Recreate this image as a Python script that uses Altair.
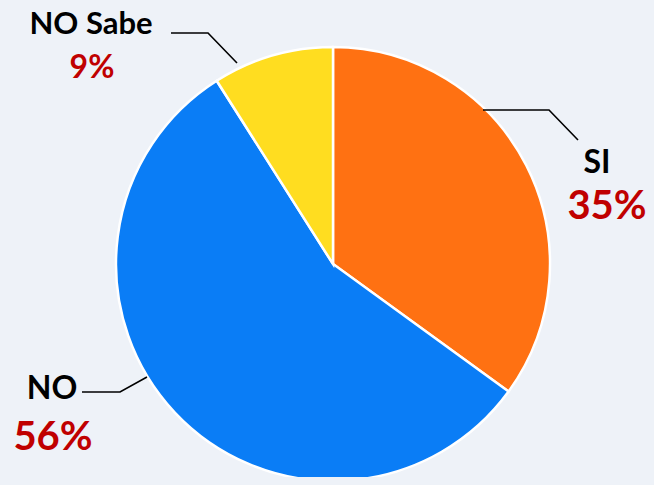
import altair as alt
import pandas as pd
import jinja2

# ---- data ----
categories = ["SI", "NO", "NO Sabe"]
values = [35, 56, 9]
pct_labels = ["35%", "56%", "9%"]
colors = ["#FF7112", "#0A7DF6", "#FFDD20"]
BG = "#EEF2F8"

# ---- annotation layout (image pixel coordinates) ----
name_pos = {"SI": (597, 163), "NO": (52, 389), "NO Sabe": (91, 25)}
name_size = {"SI": 32, "NO": 32, "NO Sabe": 31}
pct_pos = {"SI": (607, 207), "NO": (53, 438), "NO Sabe": (92, 68)}
pct_size = {"SI": 40, "NO": 40, "NO Sabe": 32}
leaders = {
    "SI": [(483, 110), (549, 110), (578, 140)],
    "NO": [(82, 392), (120, 392), (147, 377)],
    "NO Sabe": [(171, 33), (208, 33), (237, 63)],
}

W, H = 638, 469
xs = alt.Scale(domain=[8, 8 + W], nice=False, zero=False)
ys = alt.Scale(domain=[8 + H, 8], nice=False, zero=False)

pie_df = pd.DataFrame({"cat": categories, "val": values, "ord": list(range(len(categories)))})
pie = alt.Chart(pie_df).mark_arc(outerRadius=217, stroke="white", strokeWidth=2.5).encode(
    theta=alt.Theta("val:Q", stack=True),
    order=alt.Order("ord:Q"),
    color=alt.Color("cat:N", scale=alt.Scale(domain=categories, range=colors), legend=None),
    x=alt.value(333 - 8),
    y=alt.value(264 - 8),
)

name_df = pd.DataFrame({
    "txt": categories,
    "x": [name_pos[c][0] for c in categories],
    "y": [name_pos[c][1] for c in categories],
    "s": [name_size[c] for c in categories],
})
names = alt.Chart(name_df).mark_text(
    font="Lato", fontWeight="bold", color="#000000", align="center", baseline="middle"
).encode(
    x=alt.X("x:Q", scale=xs, axis=None),
    y=alt.Y("y:Q", scale=ys, axis=None),
    text="txt:N",
    size=alt.Size("s:Q", scale=None, legend=None),
)

pct_df = pd.DataFrame({
    "txt": pct_labels,
    "x": [pct_pos[c][0] for c in categories],
    "y": [pct_pos[c][1] for c in categories],
    "s": [pct_size[c] for c in categories],
})
pcts = alt.Chart(pct_df).mark_text(
    font="Lato", fontWeight="bold", color="#C00000", align="center", baseline="middle"
).encode(
    x=alt.X("x:Q", scale=xs, axis=None),
    y=alt.Y("y:Q", scale=ys, axis=None),
    text="txt:N",
    size=alt.Size("s:Q", scale=None, legend=None),
)

rows = []
for c in categories:
    for i, (px, py) in enumerate(leaders[c]):
        rows.append({"cat": c, "i": i, "x": px, "y": py})
lead_df = pd.DataFrame(rows)
lines = alt.Chart(lead_df).mark_line(color="#000000", strokeWidth=1.6).encode(
    x=alt.X("x:Q", scale=xs, axis=None),
    y=alt.Y("y:Q", scale=ys, axis=None),
    detail="cat:N",
    order="i:Q",
)

chart = alt.layer(pie, lines, names, pcts).properties(
    width=W, height=H, padding=0, autosize=alt.AutoSizeParams(type="none"), background=BG
).configure_view(stroke=None)

TEMPLATE = jinja2.Template("""<!DOCTYPE html>
<html>
<head>
<style>body { background: """ + BG + """; }</style>
<script type="text/javascript" src="{{ base_url }}/vega@{{ vega_version }}"></script>
<script type="text/javascript" src="{{ base_url }}/vega-lite@{{ vegalite_version }}"></script>
<script type="text/javascript" src="{{ base_url }}/vega-embed@{{ vegaembed_version }}"></script>
</head>
<body>
<div id="{{ output_div }}"></div>
<script type="text/javascript">
  vegaEmbed('#{{ output_div }}', {{ spec }}, {{ embed_options }}).catch(console.error);
</script>
</body>
</html>""")

chart.save("out.html", embed_options={"renderer": "svg", "actions": False}, template=TEMPLATE)
